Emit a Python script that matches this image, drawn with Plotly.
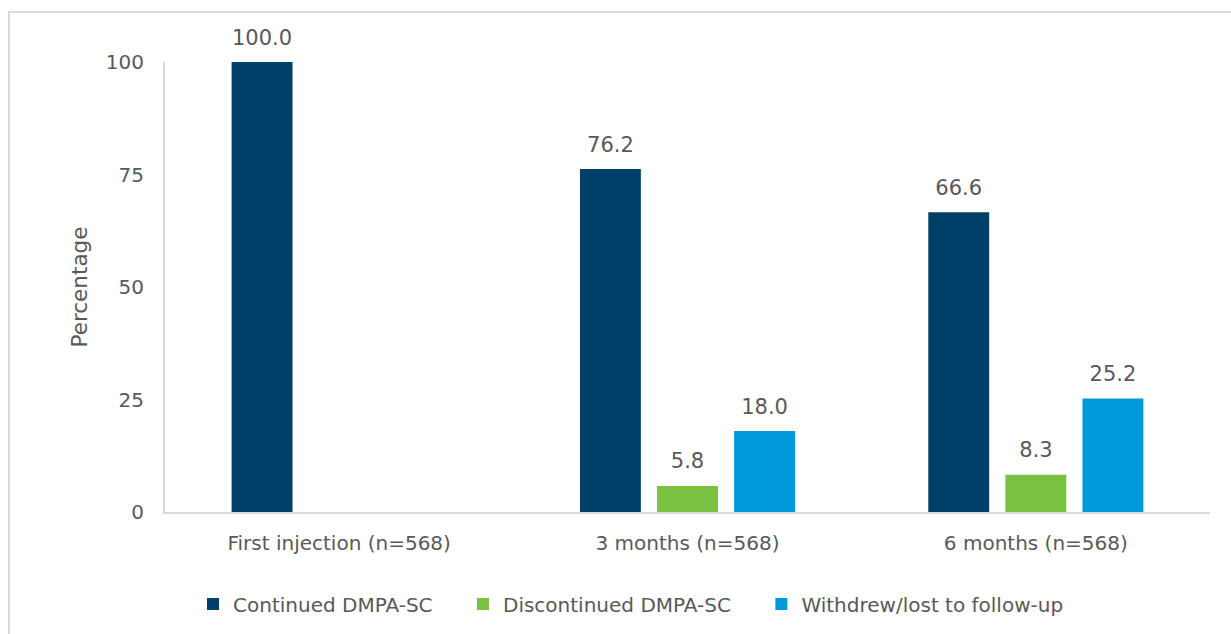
import plotly.graph_objects as go

categories = ["First injection (n=568)", "3 months (n=568)", "6 months (n=568)"]
series_names = ["Continued DMPA-SC", "Discontinued DMPA-SC", "Withdrew/lost to follow-up"]
continued = [100.0, 76.2, 66.6]
discontinued = [None, 5.8, 8.3]
withdrew = [None, 18.0, 25.2]
colors = ["#004068", "#7AC143", "#009ADB"]
y_ticks = [0, 25, 50, 75, 100]

FONT = "DejaVu Sans"
TXT = "#595959"
L, R, T, B = 165, 21, 62, 121
W, H = 1231, 634
pw, ph = W - L - R, H - T - B
GAP = 0.336
PAD = "\u00a0" * 4  # spacing between legend entries

fig = go.Figure()
for i, (name, vals, col) in enumerate(zip(series_names, [continued, discontinued, withdrew], colors)):
    fig.add_trace(go.Bar(
        x=categories, y=vals, name=name + PAD, offsetgroup=str(i),
        marker=dict(color=col, line=dict(width=0)),
    ))
for i, (name, vals) in enumerate(zip(series_names, [continued, discontinued, withdrew])):
    fig.add_trace(go.Scatter(
        x=categories, y=vals, mode="markers+text", offsetgroup=str(i),
        marker=dict(size=18, opacity=0), showlegend=False, hoverinfo="skip",
        text=[None if v is None else f"{v:.1f}" for v in vals],
        textposition="top center", cliponaxis=False,
        textfont=dict(family=FONT, size=21, color=TXT),
    ))

fig.update_layout(
    width=W, height=H, autosize=False,
    margin=dict(l=L, r=R, t=T, b=B),
    paper_bgcolor="white", plot_bgcolor="white",
    barmode="group", bargap=GAP, bargroupgap=0.21,
    scattermode="group", scattergap=GAP,
    font=dict(family=FONT, size=20, color=TXT),
    showlegend=True,
    legend=dict(orientation="h", x=(207 - 14 - L) / pw, xanchor="left",
                y=(513 - 604) / ph, yanchor="middle",
                font=dict(family=FONT, size=20, color=TXT),
                traceorder="normal", itemwidth=30),
    xaxis=dict(showline=True, linecolor="#D9D9D9", linewidth=2, ticks="",
               showgrid=False, tickfont=dict(family=FONT, size=20, color=TXT),
               ticklabelstandoff=12),
    yaxis=dict(range=[0, 100], tickvals=y_ticks, showline=True, linecolor="#D9D9D9",
               linewidth=2, showgrid=False, zeroline=False, ticks="",
               tickfont=dict(family=FONT, size=20, color=TXT), ticklabelstandoff=15,
               title=dict(text="Percentage", font=dict(family=FONT, size=21.5, color=TXT),
                          standoff=12)),
    shapes=[dict(type="rect", xref="paper", yref="paper",
                 x0=(9 - L) / pw, x1=(1245 - L) / pw,
                 y0=(513 - 650) / ph, y1=(513 - 12) / ph,
                 line=dict(color="#D9D9D9", width=2), fillcolor="rgba(0,0,0,0)",
                 layer="below")],
)

fig.write_html("out.html")
